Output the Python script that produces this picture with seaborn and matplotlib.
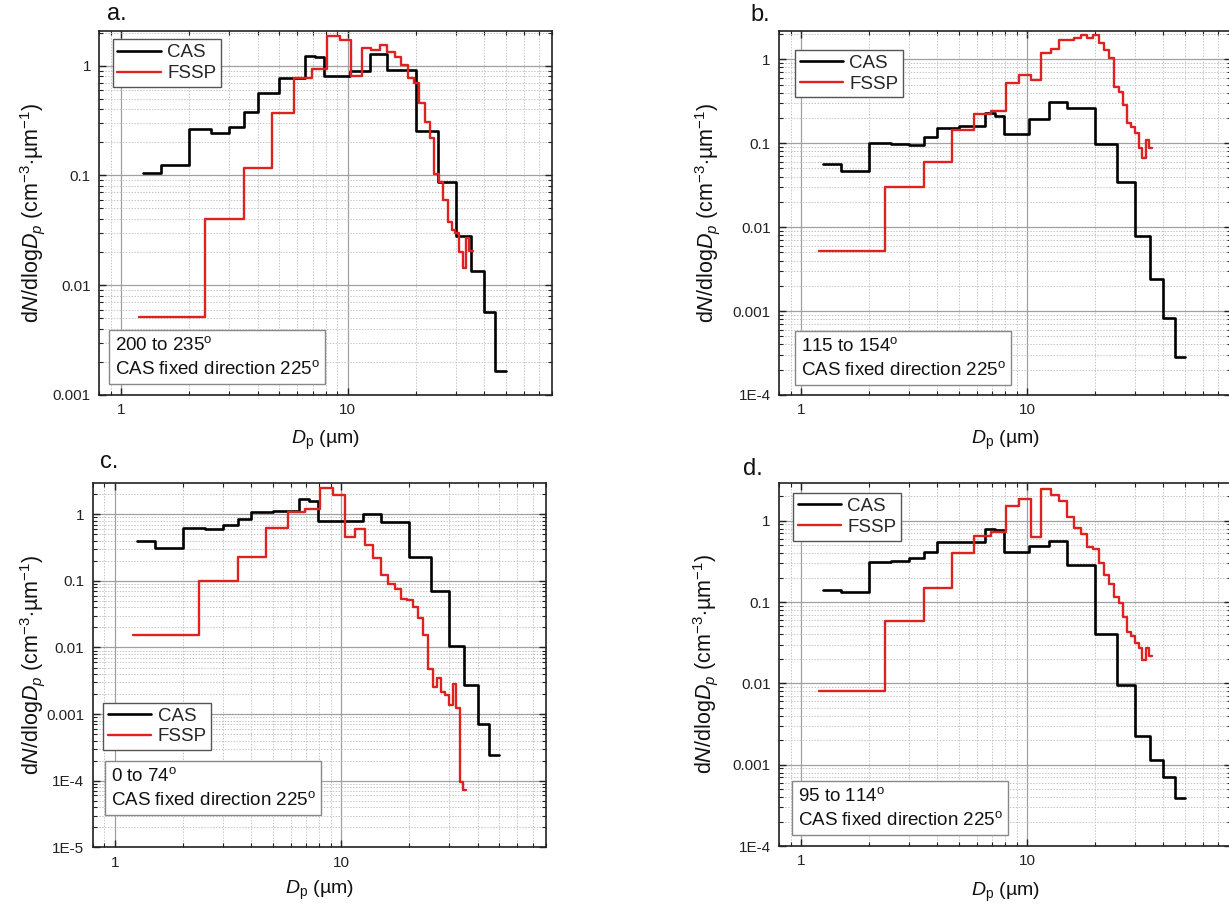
import numpy as np
import pandas as pd
import matplotlib
matplotlib.use("Agg")
import matplotlib.pyplot as plt
import seaborn as sns
from matplotlib.ticker import LogLocator, FuncFormatter, NullFormatter

# ---------------- data ----------------
cas_edges = [1.25, 1.5, 2.0, 2.5, 3.0, 3.5, 4.0, 5.0, 6.5, 7.2, 7.9, 10.2, 12.5,
             15.0, 20.0, 25.0, 30.0, 35.0, 40.0, 45.0, 50.0]
fssp_edges = [1.2, 2.35, 3.5, 4.65, 5.8, 6.95, 8.1, 9.25, 10.4, 11.55, 12.7, 13.85,
              15.0, 16.15, 17.3, 18.45, 19.6, 20.75, 21.9, 23.05, 24.2, 25.35, 26.5,
              27.65, 28.8, 29.95, 31.1, 32.25, 33.4, 34.55, 35.7]

cas_a = [0.106, 0.124, 0.263, 0.241, 0.276, 0.375, 0.567, 0.767, 1.23, 1.21, 0.81,
         0.895, 1.27, 0.92, 0.256, 0.088, 0.028, 0.0136, 0.0057, 0.00164]
fssp_a = [0.00514, 0.0403, 0.1166, 0.367, 0.767, 0.935, 1.85, 1.70, 0.81, 1.44, 1.39,
          1.54, 1.34, 1.19, 1.01, 0.767, 0.69, 0.454, 0.309, 0.218, 0.104, 0.0877,
          0.0597, 0.0378, 0.0318, 0.0297, 0.0201, 0.0144, 0.0267, 0.0205]

cas_b = [0.057, 0.0467, 0.1014, 0.0968, 0.095, 0.1196, 0.153, 0.160, 0.232, 0.209,
         0.129, 0.192, 0.313, 0.265, 0.0975, 0.0347, 0.00781, 0.00238, 0.000829, 0.000281]
fssp_b = [0.0052, 0.030, 0.060, 0.142, 0.22, 0.243, 0.518, 0.65, 0.567, 1.18, 1.33,
          1.70, 1.70, 1.81, 1.95, 1.78, 1.95, 1.55, 1.29, 1.03, 0.472, 0.411, 0.286,
          0.173, 0.158, 0.1315, 0.087, 0.066, 0.109, 0.087]

cas_c = [0.402, 0.316, 0.63, 0.609, 0.684, 0.841, 1.096, 1.12, 1.70, 1.585, 0.794,
         0.80, 1.02, 0.77, 0.226, 0.070, 0.0105, 0.0027, 0.00071, 0.000243]
fssp_c = [0.0154, 0.0997, 0.231, 0.63, 1.096, 1.19, 2.46, 1.97, 0.452, 0.601, 0.346,
          0.218, 0.123, 0.0898, 0.0748, 0.0535, 0.051, 0.041, 0.0274, 0.0154, 0.00471,
          0.00258, 0.00345, 0.00218, 0.00194, 0.00137, 0.00283, 0.00122, 0.000097, 0.000072]

cas_d = [0.1405, 0.1315, 0.313, 0.319, 0.344, 0.408, 0.542, 0.545, 0.79, 0.77, 0.41,
         0.486, 0.57, 0.284, 0.040, 0.00955, 0.00227, 0.00114, 0.000712, 0.000393]
fssp_d = [0.008, 0.0584, 0.15, 0.397, 0.654, 0.73, 1.53, 1.83, 0.625, 2.43, 2.07,
          1.76, 1.10, 0.806, 0.686, 0.479, 0.445, 0.299, 0.215, 0.166, 0.114, 0.0963,
          0.0648, 0.0431, 0.0382, 0.0316, 0.0269, 0.0194, 0.0269, 0.0219]

panel_letters = ["a.", "b.", "c.", "d."]
sector_texts = ["200 to 235", "115 to 154", "0 to 74", "95 to 114"]
fixed_text = "CAS fixed direction 225"

# ---------------- style ----------------
sns.set_theme(style="ticks")
plt.rcParams["font.family"] = ["Liberation Sans", "DejaVu Sans"]
plt.rcParams["mathtext.fontset"] = "custom"
plt.rcParams["mathtext.rm"] = "Liberation Sans"
plt.rcParams["mathtext.it"] = "Liberation Sans:italic"
plt.rcParams["mathtext.bf"] = "Liberation Sans:bold"

W, H = 1229, 909
fig = plt.figure(figsize=(W / 100, H / 100), dpi=100)

def fx(px):
    return px / W

def fy(py):
    return 1 - py / H

RED = "#de2220"

def ytick_fmt(v, pos):
    if v >= 0.001:
        return f"{v:g}"
    e = int(round(np.log10(v)))
    return f"1E{e}"

panels = [
    dict(rect=[fx(99.3), fy(395), fx(452.7), 364.3 / H], cas=cas_a, fssp=fssp_a,
         ylim=(1e-3, 2.08), leg=(0.0296, 0.976), txt=(0.034, 0.046)),
    dict(rect=[fx(779), fy(395), fx(452.4), 364 / H], cas=cas_b, fssp=fssp_b,
         ylim=(1e-4, 2.17), leg=(0.0354, 0.948), txt=(0.048, 0.043)),
    dict(rect=[fx(92.7), fy(847.3), fx(453), 364.6 / H], cas=cas_c, fssp=fssp_c,
         ylim=(1e-5, 2.98), leg=(0.0234, 0.3966), txt=(0.040, 0.104)),
    dict(rect=[fx(779), fy(846), fx(452.4), 363.3 / H], cas=cas_d, fssp=fssp_d,
         ylim=(1e-4, 2.93), leg=(0.031, 0.971), txt=(0.041, 0.0457)),
]

for i, p in enumerate(panels):
    ax = fig.add_axes(p["rect"])
    df_c = pd.DataFrame({"Dp": cas_edges, "val": p["cas"] + [p["cas"][-1]]})
    df_f = pd.DataFrame({"Dp": fssp_edges, "val": p["fssp"] + [p["fssp"][-1]]})
    sns.lineplot(data=df_c, x="Dp", y="val", ax=ax, color="black", lw=1.9,
                 drawstyle="steps-post", label="CAS", estimator=None, sort=False)
    sns.lineplot(data=df_f, x="Dp", y="val", ax=ax, color=RED, lw=1.7,
                 drawstyle="steps-post", label="FSSP", estimator=None, sort=False)
    ax.set_xscale("log")
    ax.set_yscale("log")
    ax.set_xlim(0.8, 80)
    ax.set_ylim(*p["ylim"])
    ax.set_xlabel("")
    ax.set_ylabel("")

    ax.xaxis.set_major_locator(LogLocator(base=10, numticks=10))
    ax.xaxis.set_minor_locator(LogLocator(base=10, subs=np.arange(2, 10), numticks=100))
    ax.yaxis.set_major_locator(LogLocator(base=10, numticks=20))
    ax.yaxis.set_minor_locator(LogLocator(base=10, subs=np.arange(2, 10), numticks=100))
    ax.xaxis.set_major_formatter(FuncFormatter(lambda v, pos: f"{v:g}"))
    ax.yaxis.set_major_formatter(FuncFormatter(ytick_fmt))
    ax.xaxis.set_minor_formatter(NullFormatter())
    ax.yaxis.set_minor_formatter(NullFormatter())

    ax.tick_params(which="both", direction="in", top=True, right=True, colors="#222222",
                   labelcolor="#222222", labelsize=11)
    ax.tick_params(which="major", length=5, width=1, pad=6)
    ax.tick_params(which="minor", length=3, width=0.8)
    for s in ax.spines.values():
        s.set_color("#222222")
        s.set_linewidth(1.2)

    ax.set_axisbelow(True)
    ax.grid(True, which="major", color="#a0a0a0", lw=0.9, ls="-")
    ax.grid(True, which="minor", color="#c6c6c6", lw=0.7, ls=(0, (1.5, 1.5)))

    handles, labels = ax.get_legend_handles_labels()
    leg = ax.legend(handles, labels, loc="upper left", bbox_to_anchor=p["leg"],
                    borderaxespad=0, fontsize=13.5, frameon=True, fancybox=False,
                    framealpha=1, edgecolor="#555555", handlelength=2.3,
                    handletextpad=0.35, borderpad=0.25, labelspacing=0.2)
    leg.get_frame().set_linewidth(1.0)

    ax.text(p["txt"][0], p["txt"][1],
            sector_texts[i] + r"$^\mathrm{o}$" + "\n" + fixed_text + r"$^\mathrm{o}$",
            transform=ax.transAxes, ha="left", va="bottom", fontsize=13.5,
            linespacing=1.45, color="#111111",
            bbox=dict(boxstyle="square,pad=0.3", fc="white", ec="#888888", lw=1.0))

ylab = r"d$N$/dlog$D_p$ (cm$^{-3}$$\cdot$µm$^{-1}$)"
xlab = r"$D_\mathrm{p}$ (µm)"
for (x, y) in [(33, 213), (708, 213), (33, 665), (706, 664)]:
    fig.text(fx(x), fy(y), ylab, rotation=90, ha="center", va="center", fontsize=15.5,
             color="#111111")
for (x, y) in [(325.6, 440), (1005, 440), (319, 890), (1005, 892)]:
    fig.text(fx(x), fy(y), xlab, ha="center", va="center", fontsize=14, color="#111111")
for lab, (x, y) in zip(panel_letters, [(107, 14), (750, 15), (100, 462), (743, 469)]):
    fig.text(fx(x), fy(y), lab, ha="left", va="center", fontsize=17, color="#111111")

fig.savefig("out.png", dpi=100)
